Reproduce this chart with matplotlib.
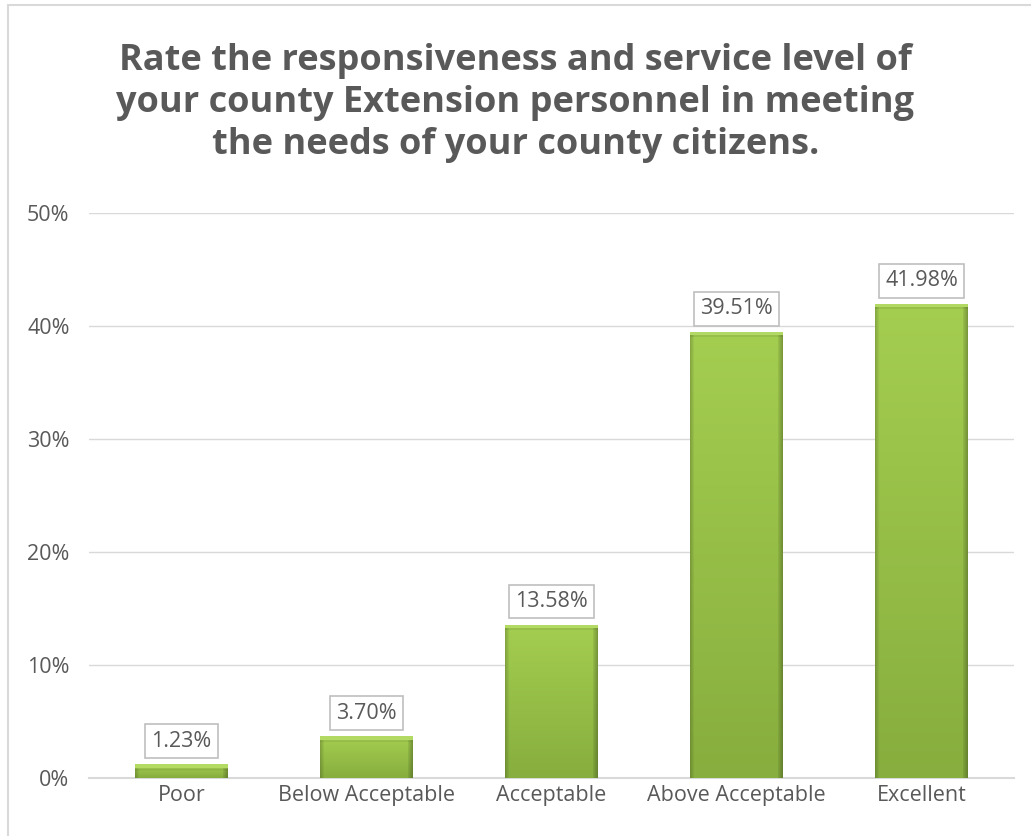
import matplotlib.pyplot as plt
import numpy as np
from matplotlib.patches import Rectangle
from matplotlib.colors import to_rgb

# ---------- Data ----------
categories = ["Poor", "Below Acceptable", "Acceptable", "Above Acceptable", "Excellent"]
values = [1.23, 3.70, 13.58, 39.51, 41.98]
yticks = [0, 10, 20, 30, 40, 50]

title = ("Rate the responsiveness and service level of\n"
         "your county Extension personnel in meeting\n"
         "the needs of your county citizens.")

GRAY = "#595959"
plt.rcParams["font.family"] = ["Open Sans", "DejaVu Sans"]

fig = plt.figure(figsize=(10.31, 8.36), dpi=100)
ax = fig.add_axes([0.0863, 0.0694, 0.8972, 0.6758])

x = np.arange(len(categories))
bars = ax.bar(x, values, width=0.5, color="#92bb45", zorder=3)

# bar shading: vertical gradient, darker side edges
top_c, bot_c = np.array(to_rgb("#a4ce50")), np.array(to_rgb("#87ae3e"))
for b in bars:
    x0, y0 = b.get_x(), b.get_y()
    w, h = b.get_width(), b.get_height()
    hp = max(int(h * 11.3), 4)
    t = np.linspace(1, 0, hp)[:, None, None]
    img = bot_c * (1 - t) + top_c * t
    img = np.repeat(img, 93, axis=1)
    edge = np.ones(93)
    edge[:4] = np.linspace(0.82, 0.95, 4)
    edge[-5:] = np.linspace(0.92, 0.75, 5)
    img = img * edge[None, :, None]
    img[:4] = np.array(to_rgb("#b3da63"))
    img[4:6] = img[4:6] * 0.93
    im = ax.imshow(np.clip(img, 0, 1), aspect="auto", interpolation="bilinear",
                   extent=[x0, x0 + w, y0, y0 + h], zorder=4)
    im.set_clip_path(b)

for xi, v in zip(x, values):
    ax.annotate(f"{v:.2f}%", (xi, v), xytext=(0, 9), textcoords="offset points",
                ha="center", va="bottom", fontsize=15.5, color=GRAY, zorder=6,
                bbox=dict(boxstyle="square,pad=0.3", fc="white", ec="#bfbfbf", lw=1.2))

ax.set_xlim(-0.5, len(categories) - 0.5)
ax.set_ylim(0, 50)
ax.set_yticks(yticks)
ax.set_yticklabels([f"{t}%" for t in yticks])
ax.set_xticks(x)
ax.set_xticklabels(categories)
ax.tick_params(length=0, labelsize=15.5, labelcolor=GRAY)
ax.tick_params(axis="x", pad=5)
ax.tick_params(axis="y", pad=14)
ax.grid(axis="y", color="#d9d9d9", lw=1, zorder=0)
for s in ["top", "right", "left"]:
    ax.spines[s].set_visible(False)
ax.spines["bottom"].set_color("#d9d9d9")
ax.spines["bottom"].set_linewidth(1.5)

fig.text(0.5, 0.948, title, ha="center", va="top", fontsize=26, fontweight="bold",
         color=GRAY, linespacing=1.22)

# chart border
fig.patches.append(Rectangle((8 / 1031, -0.1), 1.2, 1.1 - 5 / 836, transform=fig.transFigure,
                             fill=False, ec="#d9d9d9", lw=1.5))

fig.savefig("out.png", dpi=100)
